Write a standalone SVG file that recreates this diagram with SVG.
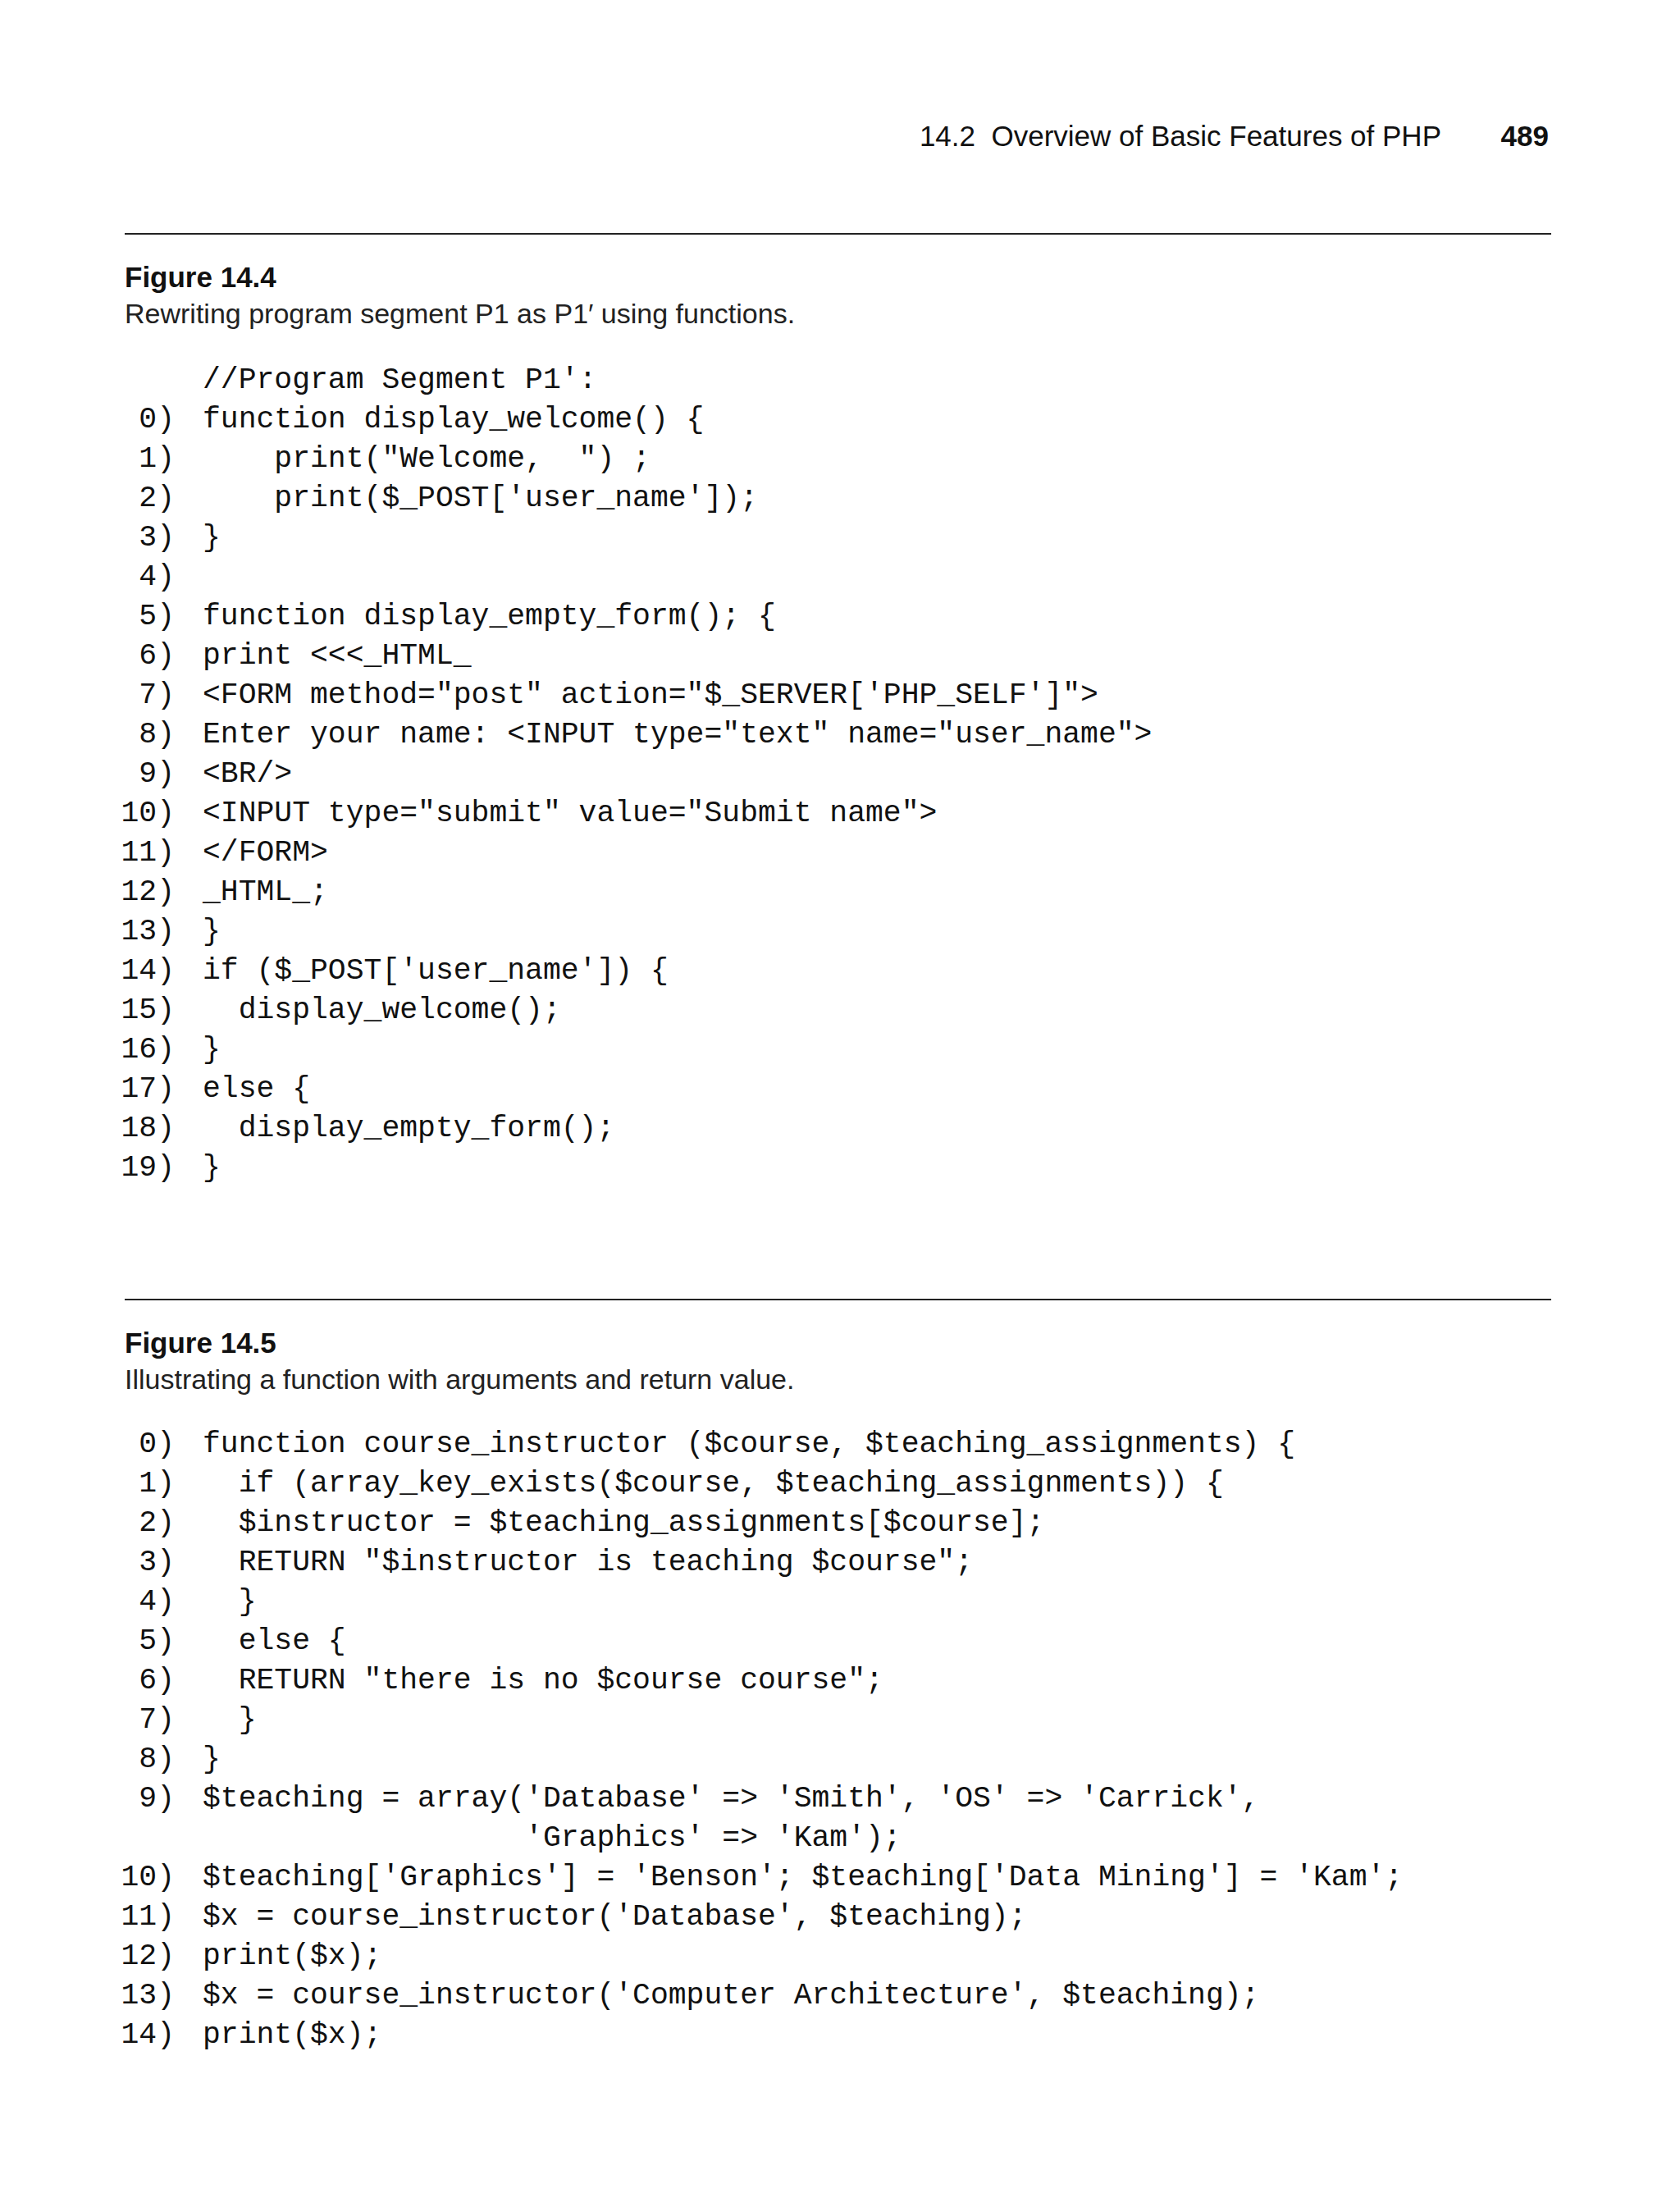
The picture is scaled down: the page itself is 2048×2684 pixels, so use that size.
<svg xmlns="http://www.w3.org/2000/svg" width="2048" height="2684" viewBox="0 0 2048 2684" xml:space="preserve">
<style>
.s{font-family:"Liberation Sans",Arial,sans-serif;font-size:35px;fill:#111}
.b{font-weight:bold}
.c{font-family:"Liberation Sans",Arial,sans-serif;font-size:34px;fill:#222}
.m{font-family:"Liberation Mono","Courier New",monospace;font-size:36.4px;fill:#111;white-space:pre}
.n{text-anchor:end}
</style>
<rect width="2048" height="2684" fill="#fff"/>
<text class="s" x="1757" y="178" text-anchor="end">14.2&#160; Overview of Basic Features of PHP</text>
<text class="s b" x="1888" y="178" text-anchor="end">489</text>
<line x1="152" y1="285" x2="1891" y2="285" stroke="#222" stroke-width="2"/>
<g id="fig14_4">
<text class="s b" x="152" y="350">Figure 14.4</text>
<text class="c" x="152" y="394">Rewriting program segment P1 as P1′ using functions.</text>
<g class="m">
<text x="247" y="473">//Program Segment P1':</text>
<text class="n" x="213" y="521">0)</text><text x="247" y="521">function display_welcome() {</text>
<text class="n" x="213" y="569">1)</text><text x="247" y="569">&#160;&#160;&#160;&#160;print("Welcome,&#160;&#160;") ;</text>
<text class="n" x="213" y="617">2)</text><text x="247" y="617">&#160;&#160;&#160;&#160;print($_POST['user_name']);</text>
<text class="n" x="213" y="665">3)</text><text x="247" y="665">}</text>
<text class="n" x="213" y="713">4)</text>
<text class="n" x="213" y="761">5)</text><text x="247" y="761">function display_empty_form(); {</text>
<text class="n" x="213" y="809">6)</text><text x="247" y="809">print &lt;&lt;&lt;_HTML_</text>
<text class="n" x="213" y="857">7)</text><text x="247" y="857">&lt;FORM method="post" action="$_SERVER['PHP_SELF']"&gt;</text>
<text class="n" x="213" y="905">8)</text><text x="247" y="905">Enter your name: &lt;INPUT type="text" name="user_name"&gt;</text>
<text class="n" x="213" y="953">9)</text><text x="247" y="953">&lt;BR/&gt;</text>
<text class="n" x="213" y="1001">10)</text><text x="247" y="1001">&lt;INPUT type="submit" value="Submit name"&gt;</text>
<text class="n" x="213" y="1049">11)</text><text x="247" y="1049">&lt;/FORM&gt;</text>
<text class="n" x="213" y="1097">12)</text><text x="247" y="1097">_HTML_;</text>
<text class="n" x="213" y="1145">13)</text><text x="247" y="1145">}</text>
<text class="n" x="213" y="1193">14)</text><text x="247" y="1193">if ($_POST['user_name']) {</text>
<text class="n" x="213" y="1241">15)</text><text x="247" y="1241">&#160;&#160;display_welcome();</text>
<text class="n" x="213" y="1289">16)</text><text x="247" y="1289">}</text>
<text class="n" x="213" y="1337">17)</text><text x="247" y="1337">else {</text>
<text class="n" x="213" y="1385">18)</text><text x="247" y="1385">&#160;&#160;display_empty_form();</text>
<text class="n" x="213" y="1433">19)</text><text x="247" y="1433">}</text>
</g>
</g>
<line x1="152" y1="1584" x2="1891" y2="1584" stroke="#222" stroke-width="2"/>
<g id="fig14_5">
<text class="s b" x="152" y="1649">Figure 14.5</text>
<text class="c" x="152" y="1693">Illustrating a function with arguments and return value.</text>
<g class="m">
<text class="n" x="213" y="1770">0)</text><text x="247" y="1770">function course_instructor ($course, $teaching_assignments) {</text>
<text class="n" x="213" y="1818">1)</text><text x="247" y="1818">&#160;&#160;if (array_key_exists($course, $teaching_assignments)) {</text>
<text class="n" x="213" y="1866">2)</text><text x="247" y="1866">&#160;&#160;$instructor = $teaching_assignments[$course];</text>
<text class="n" x="213" y="1914">3)</text><text x="247" y="1914">&#160;&#160;RETURN "$instructor is teaching $course";</text>
<text class="n" x="213" y="1962">4)</text><text x="247" y="1962">&#160;&#160;}</text>
<text class="n" x="213" y="2010">5)</text><text x="247" y="2010">&#160;&#160;else {</text>
<text class="n" x="213" y="2058">6)</text><text x="247" y="2058">&#160;&#160;RETURN "there is no $course course";</text>
<text class="n" x="213" y="2106">7)</text><text x="247" y="2106">&#160;&#160;}</text>
<text class="n" x="213" y="2154">8)</text><text x="247" y="2154">}</text>
<text class="n" x="213" y="2202">9)</text><text x="247" y="2202">$teaching = array('Database' =&gt; 'Smith', 'OS' =&gt; 'Carrick',</text>
<text x="247" y="2250">&#160;&#160;&#160;&#160;&#160;&#160;&#160;&#160;&#160;&#160;&#160;&#160;&#160;&#160;&#160;&#160;&#160;&#160;'Graphics' =&gt; 'Kam');</text>
<text class="n" x="213" y="2298">10)</text><text x="247" y="2298">$teaching['Graphics'] = 'Benson'; $teaching['Data Mining'] = 'Kam';</text>
<text class="n" x="213" y="2346">11)</text><text x="247" y="2346">$x = course_instructor('Database', $teaching);</text>
<text class="n" x="213" y="2394">12)</text><text x="247" y="2394">print($x);</text>
<text class="n" x="213" y="2442">13)</text><text x="247" y="2442">$x = course_instructor('Computer Architecture', $teaching);</text>
<text class="n" x="213" y="2490">14)</text><text x="247" y="2490">print($x);</text>
</g>
</g>
</svg>
